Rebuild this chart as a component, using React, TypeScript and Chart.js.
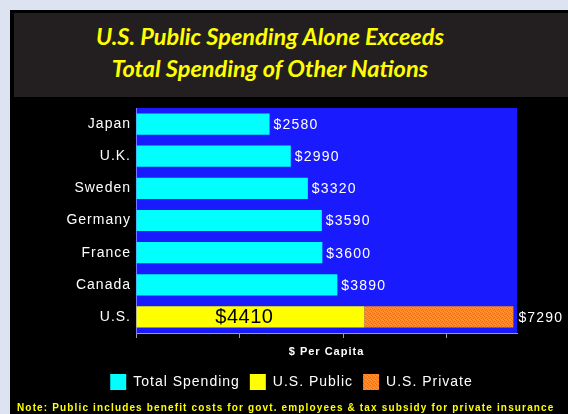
import React, { useEffect, useRef } from "react";
import { Chart, registerables } from "chart.js";

Chart.register(...registerables);

const categories = ["Japan", "U.K.", "Sweden", "Germany", "France", "Canada", "U.S."];
const totalSpending = [2580, 2990, 3320, 3590, 3600, 3890, null];
const usPublic = [null, null, null, null, null, null, 4410];
const usPrivate = [null, null, null, null, null, null, 2880];
const xTickValues = [0, 2000, 4000, 6000];
const xMax = 7360;
const titleLines = ["U.S. Public Spending Alone Exceeds", "Total Spending of Other Nations"];
const noteText = "Note: Public includes benefit costs for govt. employees & tax subsidy for private insurance";

const FONT = "'Liberation Sans', Arial, sans-serif";

function makeOrangePattern(): CanvasPattern | string {
  const c = document.createElement("canvas");
  c.width = 4;
  c.height = 4;
  const g = c.getContext("2d");
  if (!g) return "#ff8424";
  g.fillStyle = "#ff8a26";
  g.fillRect(0, 0, 4, 4);
  g.fillStyle = "#ec6f18";
  g.fillRect(0, 0, 1, 1);
  g.fillRect(2, 1, 1, 1);
  g.fillRect(1, 2, 1, 1);
  g.fillRect(3, 3, 1, 1);
  g.fillStyle = "#ff9a3a";
  g.fillRect(3, 0, 1, 1);
  g.fillRect(1, 3, 1, 1);
  const p = g.createPattern(c, "repeat");
  return p || "#ff8424";
}

const spacingPlugin = {
  id: "spacing",
  beforeUpdate(chart: any) {
    (chart.ctx as any).letterSpacing = "1px";
  },
  afterLayout(chart: any) {
    const lg = chart.legend;
    if (lg) {
      lg.left += 33;
      lg.right += 33;
    }
  },
  beforeDraw(chart: any) {
    (chart.ctx as any).letterSpacing = "1px";
    const { ctx, chartArea } = chart;
    ctx.save();
    ctx.fillStyle = "#1a1aff";
    ctx.fillRect(chartArea.left, chartArea.top, chartArea.right - chartArea.left, chartArea.bottom - chartArea.top);
    ctx.restore();
  },
};

const valueLabelPlugin = {
  id: "valueLabels",
  afterDatasetsDraw(chart: any) {
    const { ctx } = chart;
    ctx.save();
    (ctx as any).letterSpacing = "1.2px";
    const m0 = chart.getDatasetMeta(0);
    m0.data.forEach((bar: any, i: number) => {
      const v = totalSpending[i];
      if (v == null) return;
      ctx.fillStyle = "#ffffff";
      ctx.font = `14px ${FONT}`;
      ctx.textAlign = "left";
      ctx.textBaseline = "middle";
      ctx.fillText("$" + v, bar.x + 4, bar.y + 1);
    });
    const m1 = chart.getDatasetMeta(1);
    const m2 = chart.getDatasetMeta(2);
    m1.data.forEach((bar: any, i: number) => {
      const pub = usPublic[i];
      if (pub == null) return;
      (ctx as any).letterSpacing = "0.5px";
      ctx.fillStyle = "#000000";
      ctx.font = `20px ${FONT}`;
      ctx.textAlign = "center";
      ctx.textBaseline = "middle";
      ctx.fillText("$" + pub, (bar.base + bar.x) / 2 - 6, bar.y + 1);
      const priv = usPrivate[i] || 0;
      const end = m2.data[i];
      (ctx as any).letterSpacing = "1.2px";
      ctx.fillStyle = "#ffffff";
      ctx.font = `14px ${FONT}`;
      ctx.textAlign = "left";
      ctx.fillText("$" + (pub + priv), end.x + 5, end.y + 1);
    });
    ctx.restore();
  },
};

export default function App() {
  const ref = useRef<HTMLCanvasElement>(null);
  useEffect(() => {
    if (!ref.current) return;
    const orange = makeOrangePattern();
    const chart = new Chart(ref.current, {
      type: "bar",
      data: {
        labels: categories,
        datasets: [
          { label: "Total Spending", data: totalSpending, backgroundColor: "#00ffff", borderWidth: 0 },
          { label: "U.S. Public", data: usPublic, backgroundColor: "#ffff00", borderWidth: 0 },
          { label: "U.S. Private", data: usPrivate, backgroundColor: orange as any, borderWidth: 0 },
        ],
      },
      options: {
        indexAxis: "y",
        responsive: false,
        animation: false,
        devicePixelRatio: 1,
        datasets: { bar: { barPercentage: 0.66, categoryPercentage: 1 } },
        layout: { padding: { left: 0, top: 108, right: 51, bottom: 14 } },
        scales: {
          x: {
            stacked: true,
            min: 0,
            max: xMax,
            afterBuildTicks: (s: any) => {
              s.ticks = xTickValues.map((v) => ({ value: v }));
            },
            afterFit: (s: any) => {
              s.height = 31;
            },
            grid: { display: true, drawOnChartArea: false, drawTicks: true, tickLength: 5, color: "#a0a0b0" },
            border: { display: true, color: "#a0a0b0", width: 1 },
            ticks: { display: false },
            title: {
              display: true,
              text: "$ Per Capita",
              color: "#ffffff",
              font: { family: FONT, size: 11, weight: "bold" },
              padding: { top: 0, bottom: 5.4 },
            },
          },
          y: {
            stacked: true,
            afterFit: (s: any) => {
              s.width = 136;
            },
            grid: { display: false, drawTicks: false },
            border: { display: true, color: "#7878ff", width: 1 },
            ticks: { color: "#ffffff", font: { family: FONT, size: 14 }, padding: 5 },
          },
        },
        plugins: {
          legend: {
            position: "bottom",
            labels: {
              color: "#ffffff",
              font: { family: FONT, size: 14 },
              boxWidth: 16,
              boxHeight: 16,
              padding: 10,
            },
          },
          tooltip: { enabled: false },
        },
      } as any,
      plugins: [spacingPlugin, valueLabelPlugin],
    });
    return () => chart.destroy();
  }, []);

  return (
    <div style={{ position: "absolute", left: 0, top: 0, width: 568, height: 414, background: "#dde3f0", overflow: "hidden" }}>
      <div style={{ position: "absolute", left: 10, top: 10, width: 558, height: 404, background: "#000000" }} />
      <div style={{ position: "absolute", left: 14, top: 13, width: 554, height: 84, background: "#231f20" }} />
      <div
        style={{
          position: "absolute",
          left: 14,
          top: 20,
          width: 512,
          textAlign: "center",
          color: "#ffff00",
          fontFamily: "Lato, 'Open Sans', sans-serif",
          fontStyle: "italic",
          fontWeight: 700,
          fontSize: 23.5,
          lineHeight: "32px",
          whiteSpace: "nowrap",
        }}
      >
        {titleLines.map((t, i) => (
          <div key={i}>{t}</div>
        ))}
      </div>
      <canvas ref={ref} width={568} height={414} style={{ position: "absolute", left: 0, top: 0, width: 568, height: 414 }} />
      <div
        style={{
          position: "absolute",
          left: 17,
          top: 402,
          color: "#ffff00",
          fontFamily: FONT,
          fontWeight: 700,
          fontSize: 10,
          lineHeight: "12px",
          letterSpacing: "1.15px",
          whiteSpace: "nowrap",
        }}
      >
        {noteText}
      </div>
    </div>
  );
}
